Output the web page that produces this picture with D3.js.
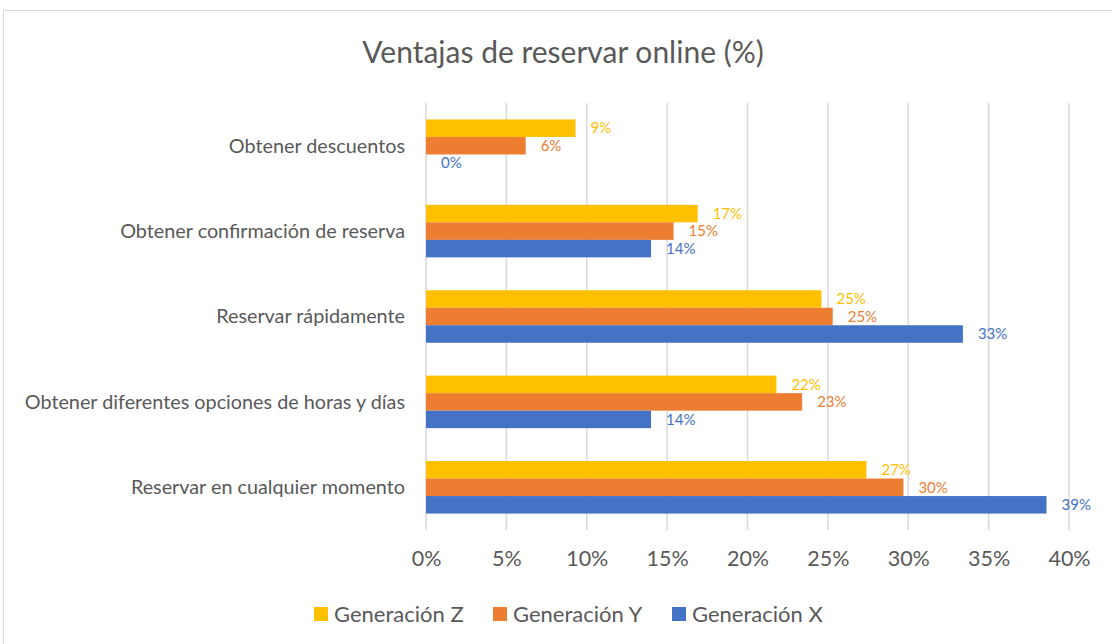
<!DOCTYPE html>
<html>
<head>
<meta charset="utf-8">
<script src="https://cdn.jsdelivr.net/npm/d3@7"></script>
<style>
  body { margin: 0; background: #fff; }
  text { font-family: Lato, "Noto Sans", sans-serif; }
</style>
</head>
<body>
<div id="chart"></div>
<script>
const categories = [
    "Obtener descuentos",
    "Obtener confirmación de reserva",
    "Reservar rápidamente",
    "Obtener diferentes opciones de horas y días",
    "Reservar en cualquier momento"
];
const seriesNames = ["Generación Z", "Generación Y", "Generación X"];
const genZ = [9.3, 16.9, 24.6, 21.8, 27.4];
const genY = [6.2, 15.4, 25.3, 23.4, 29.7];
const genX = [0, 14.0, 33.4, 14.0, 38.6];
const colors = ["#FFC000", "#ED7D31", "#4472C4"];
const ticks = [0, 5, 10, 15, 20, 25, 30, 35, 40];

const render = () => {
    const width = 1112, height = 644;
    const svg = d3.select("#chart").append("svg")
        .attr("width", width)
        .attr("height", height);

    // borde del gráfico
    svg.append("rect")
        .attr("x", 3.5).attr("y", 10.5)
        .attr("width", 1130).attr("height", 660)
        .attr("fill", "none")
        .attr("stroke", "#D9D9D9");

    const x = d3.scaleLinear().domain([0, 40]).range([426, 1069]);
    const y = d3.scaleBand().domain(categories).range([103, 530])
        .paddingInner(0.385).paddingOuter(0.1925);
    const ySub = d3.scaleBand().domain(seriesNames).range([0, y.bandwidth()]);

    svg.append("text")
        .attr("x", 563).attr("y", 63)
        .attr("text-anchor", "middle")
        .attr("font-size", 30)
        .attr("fill", "#595959")
        .text("Ventajas de reservar online (%)");

    // lineas de grilla
    svg.append("g")
        .selectAll("line")
        .data(ticks)
        .join("line")
        .attr("x1", d => x(d)).attr("x2", d => x(d))
        .attr("y1", 103).attr("y2", 530)
        .attr("stroke", "#D9D9D9")
        .attr("stroke-width", 1.5);

    const xAxis = svg.append("g")
        .attr("transform", "translate(0,530)")
        .call(d3.axisBottom(x).tickValues(ticks).tickSize(0).tickPadding(21).tickFormat(d => d + "%"));
    xAxis.select(".domain").remove();
    xAxis.selectAll("text")
        .attr("font-family", "Lato, 'Noto Sans', sans-serif")
        .attr("font-size", 21.5)
        .attr("fill", "#595959");

    svg.append("g")
        .selectAll("text")
        .data(categories)
        .join("text")
        .attr("x", 405)
        .attr("y", d => y(d) + y.bandwidth() / 2)
        .attr("dy", "0.35em")
        .attr("text-anchor", "end")
        .attr("font-size", 19.8)
        .attr("fill", "#595959")
        .text(d => d);

    const series = [genZ, genY, genX].map((vals, i) => ({
        name: seriesNames[i],
        color: colors[i],
        values: vals.map((v, j) => ({ cat: categories[j], v: v }))
    }));

    const groups = svg.append("g")
        .selectAll("g")
        .data(series)
        .join("g");

    groups.selectAll("rect")
        .data(s => s.values.map(d => ({ ...d, s: s })))
        .join("rect")
        .attr("x", x(0))
        .attr("y", d => y(d.cat) + ySub(d.s.name))
        .attr("width", d => x(d.v) - x(0))
        .attr("height", ySub.bandwidth())
        .attr("fill", d => d.s.color);

    groups.selectAll("text")
        .data(s => s.values.map(d => ({ ...d, s: s })))
        .join("text")
        .attr("x", d => x(d.v) + 15)
        .attr("y", d => y(d.cat) + ySub(d.s.name) + ySub.bandwidth() / 2)
        .attr("dy", "0.35em")
        .attr("font-size", 15)
        .attr("fill", d => d.s.color)
        .text(d => Math.round(d.v) + "%");

    // leyenda
    const legendX = [314, 493, 672];
    const legend = svg.append("g")
        .selectAll("g")
        .data(series)
        .join("g")
        .attr("transform", (d, i) => `translate(${legendX[i]},614)`);
    legend.append("rect")
        .attr("x", 0).attr("y", -7)
        .attr("width", 14).attr("height", 14)
        .attr("fill", d => d.color);
    legend.append("text")
        .attr("x", 20).attr("dy", "0.35em")
        .attr("font-size", 22)
        .attr("fill", "#595959")
        .text(d => d.name);
};

render();
</script>
</body>
</html>
